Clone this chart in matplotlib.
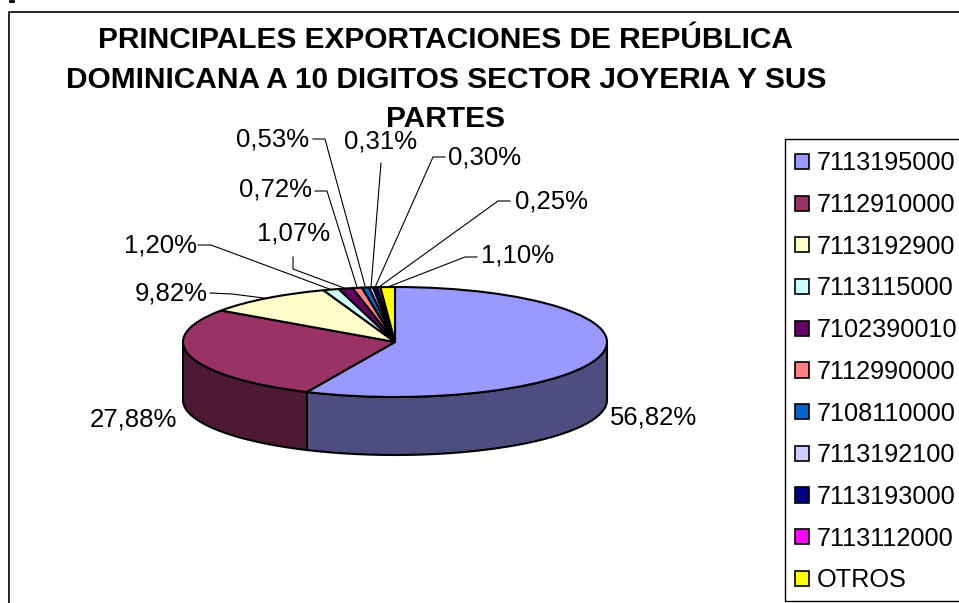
import numpy as np
import matplotlib
matplotlib.use("Agg")
import matplotlib.pyplot as plt
from matplotlib.patches import Patch

plt.rcParams["font.family"] = ["Liberation Sans", "DejaVu Sans"]

# Data
codes = ["7113195000", "7112910000", "7113192900", "7113115000", "7102390010", "7112990000",
         "7108110000", "7113192100", "7113193000", "7113112000", "OTROS"]
shares = [56.82, 27.88, 9.82, 1.20, 1.07, 0.72, 0.53, 0.31, 0.30, 0.25, 1.10]
colors = ["#9999FF", "#993366", "#FFFFCC", "#CCFFFF", "#660066", "#FF8080",
          "#0066CC", "#CCCCFF", "#000080", "#FF00FF", "#FFFF00"]
wall_colors = ["#4D4D80", "#4D1A33"]
title = "PRINCIPALES EXPORTACIONES DE REPÚBLICA\nDOMINICANA A 10 DIGITOS SECTOR JOYERIA Y SUS\nPARTES"

W, H = 959, 603
CX, CY, RX, RY, DEPTH = 395, 342, 212, 55, 58

# label anchor (text centre) and elbow, in pixels, per slice
label_pos = [(654, 418), (133, 420), (171, 293), (161, 245), (294, 234), (275, 190),
             (273, 139), (381, 141), (485, 157), (551, 201), (518, 256)]
elbows = [None, None, (232, 294), (211, 245), (293, 269), (327, 191),
          (325, 139), (381, 163), (433, 157), (498, 201), (465, 257)]
starts = [None, None, (210, 293), (198, 245), (293, 257), (315, 191),
          (313, 139), None, (445, 157), (510, 201), (477, 257)]

fig = plt.figure(figsize=(W / 100, H / 100), dpi=100)

# pie axes: stretched so the circle becomes the top ellipse
pie_ax = fig.add_axes([(CX - RX) / W, 1 - (CY + RY) / H, 2 * RX / W, 2 * RY / H])
pie_ax.pie(shares, colors=colors, startangle=90, counterclock=False, radius=1,
           wedgeprops={"edgecolor": "black", "linewidth": 1.5, "zorder": 3})
pie_ax.set_aspect("auto")
pie_ax.set_xlim(-1, 1)
pie_ax.set_ylim(-1, 1)
for p in pie_ax.patches:
    p.set_clip_on(False)

# side wall, only the two big slices reach the front
edges = 90 - 3.6 * np.cumsum([0] + shares)
d = DEPTH / RY
wall_spans = [(0, edges[1]), (edges[1], -180)]
for (a0, a1), wc in zip(wall_spans, wall_colors):
    t = np.radians(np.linspace(a0, a1, 60))
    xs = np.r_[np.cos(t), np.cos(t[::-1])]
    ys = np.r_[np.sin(t), np.sin(t[::-1]) - d]
    pie_ax.fill(xs, ys, facecolor=wc, edgecolor="black", linewidth=1.5, zorder=1, clip_on=False)

# overlay in pixel units for frame, labels and leader lines
ov = fig.add_axes([0, 0, 1, 1], facecolor="none")
ov.set_xlim(0, W)
ov.set_ylim(H, 0)
ov.axis("off")
ov.plot([9, 9, W], [H, 11.5, 11.5], color="black", lw=1.2, clip_on=False)
ov.plot([10, 13], [0.5, 0.5], color="black", lw=2, clip_on=False)

mids = np.radians((edges[:-1] + edges[1:]) / 2)
for i, s in enumerate(shares):
    x, y = label_pos[i]
    ov.text(x, y, f"{s:.2f}%".replace(".", ","), fontsize=18.5, ha="center", va="center")
    if elbows[i] is None:
        continue
    rim = (CX + RX * np.cos(mids[i]), CY - RY * np.sin(mids[i]))
    pts = [elbows[i], rim] if starts[i] is None else [starts[i], elbows[i], rim]
    ov.plot([p[0] for p in pts], [p[1] for p in pts], color="black", lw=0.8, zorder=2)

ov.text(446, 79.5, title, fontsize=21.5, fontweight="bold", ha="center", va="center",
        linespacing=1.53)

# legend box runs off the right edge, so draw its frame separately
ov.plot([W, 785, 785, W], [139, 139, 601, 601], color="black", lw=1.0, clip_on=False)
handles = [Patch(facecolor=c, edgecolor="black", linewidth=1.2) for c in colors]
fig.legend(handles, codes, loc="upper left", bbox_to_anchor=(781 / W, 1 - 137.5 / H),
           fontsize=18.2, frameon=False, borderaxespad=0, borderpad=0.55,
           handlelength=0.55, handleheight=0.55, handletextpad=0.32, labelspacing=0.70)

fig.savefig("out.png", dpi=100)
